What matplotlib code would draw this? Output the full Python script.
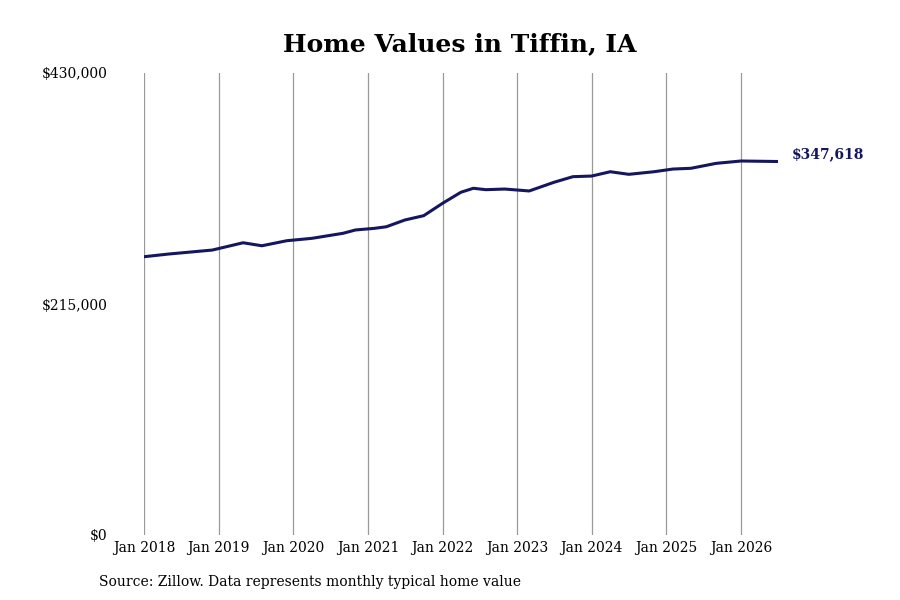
import matplotlib.pyplot as plt
import matplotlib.dates as mdates
import pandas as pd

# typical home value at its turning points
months = [
    "2018-01", "2018-05", "2018-12", "2019-05", "2019-08", "2019-12",
    "2020-04", "2020-09", "2020-11", "2021-02", "2021-04", "2021-07",
    "2021-10", "2022-01", "2022-04", "2022-06", "2022-08", "2022-11",
    "2023-01", "2023-03", "2023-07", "2023-10", "2024-01", "2024-04",
    "2024-07", "2024-11", "2025-02", "2025-05", "2025-09", "2026-01",
    "2026-07",
]
values = [
    259000, 261500, 265200, 272000, 269200, 273900,
    276100, 280800, 283900, 285400, 286900, 293200,
    297200, 308700, 319000, 322700, 321400, 322000,
    321100, 320200, 328300, 333500, 334100, 338100,
    335700, 338100, 340600, 341300, 345900, 348100,
    347618,
]
last_label = "$347,618"
yticks = [0, 215000, 430000]
ytick_labels = ["$0", "$215,000", "$430,000"]
xtick_years = list(range(2018, 2027))

plt.rcParams["font.family"] = ["DejaVu Serif"]

dates = pd.to_datetime(months)

fig = plt.figure(figsize=(9, 6), dpi=100)
ax = fig.add_axes([144 / 900, 65 / 600, (778 - 144) / 900, (535 - 73) / 600])

ax.plot(dates, values, color="#16165e", linewidth=2.2,
        solid_capstyle="round", solid_joinstyle="round")

ax.set_xlim(dates[0], dates[-1])
ax.set_ylim(0, 430000)
ax.set_yticks(yticks)
ax.set_yticklabels(ytick_labels, fontsize=10)
ax.set_xticks([pd.Timestamp(f"{y}-01-01") for y in xtick_years])
ax.xaxis.set_major_formatter(mdates.DateFormatter("%b %Y"))
ax.tick_params(axis="both", length=0, labelsize=10)
ax.tick_params(axis="y", pad=26.5)
ax.tick_params(axis="x", pad=4)

ax.grid(axis="x", color="#999999", linewidth=0.9)
for s in ax.spines.values():
    s.set_visible(False)

ax.annotate(last_label, xy=(dates[-1], values[-1]), xytext=(10, 5.5),
            textcoords="offset points", fontsize=10, fontweight="bold",
            color="#16165e", va="center", ha="left", annotation_clip=False)

fig.text(460 / 900, 1 - 44 / 600, "Home Values in Tiffin, IA", ha="center",
         va="center", fontsize=18, fontweight="bold")
fig.text(99 / 900, 1 - 582 / 600, "Source: Zillow. Data represents monthly typical home value",
         ha="left", va="center", fontsize=10)

fig.savefig("out.png", dpi=100)
